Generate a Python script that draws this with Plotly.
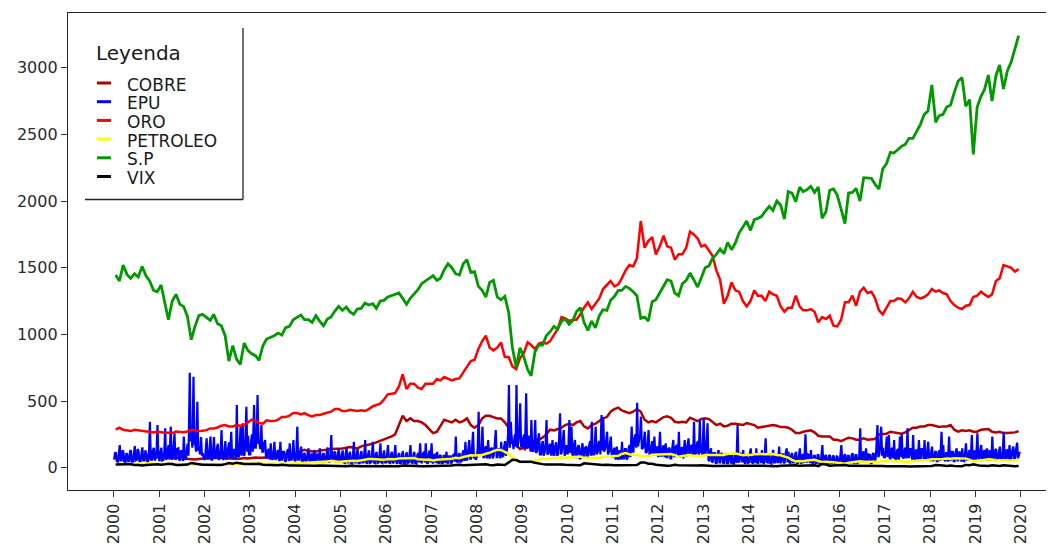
import pandas as pd
import plotly.graph_objects as go

# ---------------- DATA ----------------
fechas_mes = pd.date_range("2000-01-01", periods=240, freq="MS") + pd.Timedelta(days=14)
fechas_epu = [pd.Timestamp(a, m, d) for a in range(2000, 2020) for m in range(1, 13) for d in (3, 10, 17, 24)]

cobre = [
    85, 80, 80, 78, 82, 80, 85, 88, 90, 85, 82, 83,
    82, 80, 78, 75, 75, 72, 68, 65, 63, 62, 65, 68,
    70, 72, 75, 73, 73, 76, 70, 67, 67, 68, 72, 70,
    75, 77, 74, 73, 75, 76, 77, 80, 80, 86, 93, 100,
    110, 125, 135, 125, 125, 120, 130, 130, 135, 140, 140, 145,
    145, 150, 155, 150, 145, 160, 165, 170, 180, 190, 200, 215,
    225, 235, 250, 320, 390, 350, 370, 350, 350, 340, 320, 290,
    260, 270, 310, 360, 350, 340, 360, 340, 350, 370, 320, 300,
    320, 370, 390, 390, 380, 370, 370, 340, 300, 200, 170, 140,
    150, 150, 180, 210, 210, 225, 250, 285, 280, 290, 300, 320,
    330, 320, 340, 350, 310, 295, 320, 330, 350, 370, 380, 420,
    440, 450, 430, 420, 410, 420, 440, 420, 360, 340, 350, 340,
    360, 380, 385, 375, 345, 340, 345, 340, 375, 360, 350, 365,
    370, 365, 345, 320, 330, 310, 315, 330, 330, 325, 320, 335,
    330, 320, 300, 305, 310, 315, 320, 315, 305, 305, 300, 285,
    260, 260, 270, 275, 280, 265, 240, 235, 235, 235, 210, 210,
    200, 210, 225, 220, 210, 210, 220, 210, 215, 215, 250, 250,
    255, 270, 265, 255, 255, 265, 280, 300, 300, 310, 310, 320,
    320, 315, 305, 310, 310, 320, 285, 270, 280, 275, 280, 270,
    270, 285, 290, 290, 270, 265, 270, 260, 260, 260, 265, 275,
]

epu = [
    # 2000
    60, 115, 110, 50, 45, 120, 170, 55, 55, 130, 120, 45, 40, 110, 100, 50, 50, 125, 130, 45, 45, 105, 163, 55,
    60, 140, 125, 50, 50, 110, 153, 55, 55, 130, 110, 50, 45, 120, 345, 60, 60, 130, 150, 55, 70, 140, 320, 80,
    # 2001
    50, 120, 150, 55, 60, 130, 295, 60, 70, 140, 170, 60, 308, 70, 60, 130, 258, 60, 70, 140, 145, 55, 60, 130,
    120, 50, 233, 70, 60, 140, 180, 90, 713, 200, 250, 150, 683, 180, 180, 120, 495, 130, 150, 100, 230, 90, 110, 70,
    # 2002
    60, 140, 220, 70, 70, 150, 233, 60, 60, 130, 230, 70, 80, 150, 180, 60, 70, 140, 283, 70, 60, 130, 200, 60,
    80, 150, 190, 70, 270, 80, 70, 140, 120, 60, 470, 90, 80, 160, 308, 90, 333, 100, 90, 180, 458, 120, 240, 100,
    # 2003
    100, 200, 250, 120, 470, 150, 150, 250, 545, 180, 200, 140, 320, 120, 120, 180, 208, 80, 70, 130, 140, 60, 183, 70,
    60, 120, 195, 60, 70, 125, 130, 50, 195, 60, 60, 120, 120, 45, 50, 110, 140, 50, 183, 60, 60, 115, 208, 60,
    # 2004
    50, 110, 308, 60, 60, 120, 158, 50, 45, 105, 110, 45, 55, 115, 145, 50, 40, 100, 100, 45, 133, 50, 50, 105,
    90, 45, 145, 50, 45, 100, 110, 45, 50, 110, 153, 50, 40, 100, 246, 55, 60, 115, 120, 45, 45, 110, 145, 50,
    # 2005
    40, 100, 130, 40, 35, 105, 150, 40, 40, 100, 120, 35, 30, 100, 195, 40, 40, 105, 140, 35, 35, 100, 125, 40,
    40, 105, 208, 40, 30, 100, 130, 35, 40, 105, 195, 40, 35, 100, 120, 35, 40, 105, 183, 40, 35, 100, 130, 40,
    # 2006
    40, 100, 170, 40, 35, 100, 120, 35, 40, 105, 170, 40, 30, 95, 110, 35, 35, 100, 125, 35, 30, 95, 115, 35,
    40, 105, 170, 40, 35, 100, 120, 35, 30, 95, 110, 40, 183, 45, 35, 100, 120, 40, 183, 40, 30, 100, 130, 40,
    # 2007
    183, 40, 35, 95, 100, 35, 120, 40, 30, 90, 95, 35, 35, 90, 90, 35, 120, 40, 30, 85, 85, 35, 40, 95,
    100, 45, 233, 50, 40, 100, 110, 45, 50, 110, 130, 50, 195, 60, 60, 120, 208, 60, 70, 130, 270, 70, 100, 60,
    # 2008
    80, 150, 420, 90, 100, 160, 308, 80, 80, 150, 160, 70, 208, 80, 70, 140, 150, 70, 90, 150, 283, 80, 80, 140,
    140, 70, 195, 80, 90, 160, 200, 90, 150, 250, 620, 150, 345, 180, 200, 140, 250, 160, 620, 150, 200, 300, 483, 160,
    # 2009
    150, 220, 250, 130, 558, 160, 150, 240, 220, 120, 358, 130, 120, 200, 358, 110, 130, 210, 258, 100, 100, 180, 200, 90,
    120, 190, 358, 100, 110, 170, 180, 90, 208, 100, 90, 160, 190, 90, 100, 170, 408, 100, 120, 190, 283, 90, 110, 170,
    # 2010
    100, 180, 358, 110, 308, 100, 90, 170, 208, 80, 80, 150, 170, 70, 70, 140, 183, 80, 80, 150, 160, 70, 90, 160,
    200, 90, 345, 100, 100, 170, 308, 100, 120, 190, 200, 100, 395, 130, 370, 120, 150, 210, 270, 100, 120, 180, 233, 90,
    # 2011
    80, 140, 150, 60, 158, 70, 60, 130, 120, 60, 195, 70, 70, 140, 140, 60, 80, 150, 170, 80, 308, 120, 120, 220,
    250, 150, 488, 160, 200, 250, 383, 140, 150, 220, 270, 110, 120, 190, 283, 100, 100, 170, 200, 90, 233, 100, 100, 160,
    # 2012
    80, 150, 270, 90, 90, 160, 160, 80, 183, 80, 80, 140, 150, 70, 70, 140, 208, 80, 90, 160, 170, 80, 270, 90,
    80, 150, 150, 70, 208, 90, 90, 160, 220, 90, 100, 170, 160, 90, 345, 100, 110, 180, 200, 90, 358, 110, 150, 90,
    # 2013
    370, 100, 90, 160, 333, 60, 50, 120, 145, 45, 40, 110, 110, 35, 30, 100, 133, 40, 40, 110, 100, 35, 30, 95,
    108, 35, 35, 100, 95, 30, 108, 35, 30, 95, 90, 35, 320, 50, 40, 110, 100, 40, 133, 45, 30, 100, 95, 35,
    # 2014
    40, 110, 145, 40, 35, 100, 100, 35, 145, 40, 30, 95, 90, 35, 133, 40, 35, 100, 220, 45, 40, 105, 95, 35,
    30, 95, 133, 40, 40, 100, 90, 35, 158, 45, 35, 100, 100, 35, 40, 105, 145, 40, 120, 40, 35, 100, 110, 40,
    # 2015
    40, 100, 120, 35, 35, 100, 145, 40, 30, 95, 100, 35, 250, 50, 40, 100, 95, 35, 133, 40, 30, 90, 90, 35,
    35, 95, 95, 30, 30, 90, 170, 40, 40, 95, 90, 30, 30, 90, 95, 35, 35, 90, 85, 30, 30, 85, 83, 35,
    # 2016
    40, 100, 170, 40, 35, 95, 100, 35, 30, 90, 90, 35, 40, 100, 108, 35, 35, 95, 95, 35, 40, 110, 296, 50,
    50, 115, 120, 45, 145, 45, 40, 100, 95, 35, 35, 100, 110, 50, 50, 130, 320, 80, 100, 160, 308, 90, 150, 80,
    # 2017
    80, 150, 233, 80, 246, 70, 70, 140, 150, 70, 208, 70, 60, 130, 140, 60, 233, 80, 258, 80, 70, 140, 150, 70,
    296, 80, 80, 140, 140, 60, 245, 70, 60, 130, 130, 60, 208, 70, 70, 140, 140, 60, 208, 70, 60, 130, 195, 70,
    # 2018
    50, 120, 158, 50, 60, 120, 120, 50, 50, 115, 130, 50, 270, 70, 170, 60, 50, 110, 110, 45, 233, 60, 60, 120,
    120, 50, 50, 110, 145, 50, 60, 120, 110, 45, 145, 55, 50, 115, 183, 60, 60, 125, 130, 55, 246, 60, 70, 130,
    # 2019
    60, 130, 258, 70, 70, 135, 170, 60, 60, 125, 130, 55, 145, 60, 60, 125, 120, 55, 233, 70, 70, 135, 140, 60,
    60, 125, 158, 60, 60, 130, 270, 70, 70, 135, 130, 60, 170, 65, 60, 125, 158, 60, 70, 135, 188, 70, 110, 120,
]

oro = [
    285, 300, 285, 280, 275, 285, 280, 275, 273, 270, 265, 272,
    265, 262, 263, 260, 272, 270, 267, 272, 285, 280, 275, 277,
    282, 295, 295, 302, 315, 320, 310, 310, 320, 315, 320, 340,
    360, 350, 335, 330, 355, 350, 350, 360, 380, 380, 390, 410,
    410, 400, 410, 395, 385, 395, 395, 405, 410, 420, 440, 440,
    425, 425, 435, 430, 425, 430, 425, 440, 460, 470, 480, 510,
    550, 555, 560, 610, 700, 590, 630, 630, 600, 590, 630, 630,
    630, 665, 655, 680, 670, 655, 665, 670, 715, 760, 800, 810,
    890, 950, 990, 900, 880, 900, 940, 830, 830, 760, 740, 820,
    860, 940, 920, 890, 930, 940, 930, 950, 1000, 1040, 1130, 1120,
    1100, 1110, 1110, 1150, 1200, 1240, 1190, 1230, 1270, 1340, 1370, 1400,
    1360, 1375, 1420, 1480, 1520, 1510, 1570, 1850, 1650, 1700, 1730, 1600,
    1660, 1740, 1660, 1650, 1560, 1600, 1600, 1650, 1770, 1750, 1720, 1660,
    1670, 1630, 1590, 1480, 1410, 1230, 1290, 1390, 1330, 1320, 1250, 1210,
    1250, 1330, 1290, 1290, 1250, 1320, 1300, 1290, 1210, 1170, 1200, 1200,
    1290, 1210, 1180, 1180, 1190, 1170, 1090, 1130, 1115, 1140, 1065, 1060,
    1110, 1240, 1240, 1290, 1215, 1320, 1350, 1310, 1320, 1270, 1180, 1150,
    1200, 1250, 1250, 1270, 1265, 1240, 1270, 1320, 1280, 1270, 1280, 1300,
    1340, 1320, 1330, 1310, 1300, 1250, 1220, 1200, 1190, 1215, 1220, 1280,
    1290, 1320, 1300, 1280, 1300, 1400, 1420, 1520, 1510, 1500, 1470, 1490,
]

petroleo = [
    27, 29, 30, 25, 28, 32, 30, 31, 33, 33, 34, 28,
    29, 29, 27, 27, 28, 27, 26, 27, 26, 22, 19, 19,
    20, 21, 24, 26, 27, 26, 27, 28, 29, 28, 26, 29,
    32, 35, 33, 28, 28, 30, 30, 31, 28, 30, 31, 32,
    34, 35, 37, 37, 40, 38, 41, 45, 46, 53, 48, 43,
    47, 48, 54, 53, 50, 56, 59, 65, 65, 62, 58, 59,
    65, 62, 63, 70, 71, 70, 74, 73, 64, 59, 59, 62,
    54, 59, 60, 64, 63, 67, 74, 72, 80, 86, 94, 91,
    93, 95, 105, 112, 125, 134, 133, 116, 104, 77, 57, 41,
    42, 39, 48, 50, 59, 70, 64, 71, 69, 76, 78, 75,
    78, 76, 81, 84, 74, 75, 76, 77, 75, 82, 84, 89,
    89, 89, 103, 110, 101, 96, 97, 86, 86, 86, 97, 99,
    100, 102, 106, 103, 94, 82, 88, 94, 95, 89, 86, 88,
    95, 95, 93, 92, 95, 96, 105, 107, 106, 101, 94, 98,
    95, 101, 101, 102, 102, 106, 103, 96, 93, 84, 76, 59,
    47, 51, 48, 54, 59, 60, 51, 43, 45, 46, 42, 37,
    32, 30, 38, 41, 47, 49, 45, 45, 45, 50, 45, 52,
    52, 53, 49, 51, 49, 45, 47, 48, 50, 51, 57, 58,
    63, 63, 63, 66, 70, 67, 71, 68, 70, 70, 57, 49,
    51, 55, 58, 64, 61, 54, 57, 55, 57, 54, 57, 60,
]

sp = [
    1445, 1400, 1520, 1450, 1420, 1455, 1430, 1510, 1440, 1400, 1330, 1320,
    1370, 1240, 1110, 1250, 1300, 1225, 1210, 1135, 960, 1060, 1140, 1150,
    1130, 1105, 1150, 1080, 1065, 990, 800, 915, 815, 775, 935, 880,
    855, 840, 805, 915, 965, 975, 990, 1010, 995, 1050, 1060, 1110,
    1130, 1145, 1110, 1110, 1090, 1140, 1100, 1065, 1115, 1130, 1175, 1210,
    1180, 1205, 1170, 1150, 1190, 1195, 1235, 1220, 1230, 1195, 1250, 1255,
    1280, 1290, 1295, 1310, 1270, 1225, 1270, 1305, 1335, 1380, 1400, 1420,
    1440, 1405, 1420, 1485, 1530, 1500, 1455, 1445, 1530, 1560, 1465, 1470,
    1360, 1330, 1280, 1390, 1405, 1280, 1260, 1285, 1165, 900, 752, 900,
    830, 735, 690, 870, 920, 920, 990, 1020, 1060, 1040, 1100, 1115,
    1075, 1105, 1170, 1200, 1090, 1030, 1100, 1050, 1140, 1185, 1180, 1255,
    1285, 1330, 1330, 1360, 1345, 1320, 1290, 1120, 1130, 1100, 1245, 1260,
    1310, 1365, 1410, 1400, 1310, 1290, 1380, 1405, 1460, 1410, 1355, 1425,
    1500, 1515, 1570, 1600, 1640, 1605, 1690, 1635, 1685, 1760, 1805, 1850,
    1780, 1860, 1870, 1885, 1925, 1960, 1930, 2000, 1970, 1865, 2070, 2060,
    1995, 2105, 2070, 2085, 2110, 2065, 2105, 1870, 1920, 2080, 2090, 2045,
    1940, 1830, 2060, 2065, 2095, 2000, 2175, 2170, 2170, 2125, 2090, 2240,
    2280, 2365, 2360, 2385, 2410, 2425, 2470, 2470, 2520, 2575, 2650, 2675,
    2870, 2590, 2640, 2650, 2705, 2720, 2815, 2900, 2925, 2710, 2760, 2350,
    2705, 2785, 2835, 2945, 2750, 2940, 3020, 2840, 2975, 3040, 3140, 3240,
]

vix = [
    24, 23, 24, 26, 26, 20, 20, 17, 20, 24, 25, 26,
    23, 26, 30, 28, 21, 21, 23, 24, 36, 30, 24, 23,
    22, 22, 18, 20, 20, 27, 35, 30, 38, 34, 28, 28,
    30, 32, 29, 22, 20, 19, 20, 19, 22, 17, 17, 17,
    16, 15, 17, 16, 17, 15, 16, 15, 14, 15, 13, 13,
    13, 12, 14, 15, 13, 12, 11, 12, 12, 14, 12, 12,
    12, 12, 11, 11, 16, 14, 14, 12, 12, 11, 11, 11,
    11, 15, 14, 13, 13, 16, 20, 23, 18, 19, 23, 22,
    26, 26, 26, 21, 18, 24, 23, 21, 40, 60, 58, 45,
    45, 46, 45, 37, 30, 27, 25, 26, 25, 27, 24, 22,
    22, 20, 17, 18, 33, 30, 24, 25, 22, 20, 22, 18,
    18, 18, 18, 15, 16, 17, 20, 40, 40, 30, 30, 23,
    20, 19, 15, 17, 22, 18, 17, 16, 15, 17, 16, 18,
    14, 15, 13, 14, 14, 17, 13, 15, 15, 14, 13, 14,
    16, 15, 15, 14, 12, 11, 13, 12, 15, 16, 13, 18,
    19, 14, 15, 13, 14, 18, 12, 28, 24, 15, 16, 18,
    22, 20, 14, 14, 14, 16, 12, 13, 13, 17, 14, 13,
    11, 12, 12, 11, 10, 11, 10, 10, 10, 10, 11, 11,
    13, 20, 20, 16, 13, 16, 13, 13, 12, 21, 18, 25,
    17, 14, 14, 13, 18, 15, 13, 19, 16, 13, 12, 13,
]

series_nombres = ["COBRE", "EPU", "ORO", "PETROLEO", "S.P", "VIX"]
series_colores = ["#B20000", "#0000FF", "#FF0000", "#FFFF00", "#009A00", "#000000"]
anios = [str(a) for a in range(2000, 2021)]
y_ticks = [0, 500, 1000, 1500, 2000, 2500, 3000]

# ---------------- FIGURE ----------------
# The page body has an 8px margin, so figure pixel = page pixel - 8.
OFF = 8
W, H = 1054 - OFF, 544 - OFF
L, R, T, B = 68 - OFF, 1054 - OFF, 13 - OFF, 490 - OFF   # plot area (figure pixels)

series = [
    (fechas_mes, cobre), (fechas_epu, epu), (fechas_mes, oro),
    (fechas_mes, petroleo), (fechas_mes, sp), (fechas_mes, vix),
]
anchos = [2.5, 2.2, 2.5, 2.5, 2.8, 2.5]

fig = go.Figure()
for (xs, ys), nombre, color, w in zip(series, series_nombres, series_colores, anchos):
    fig.add_trace(go.Scatter(x=xs, y=ys, mode="lines", name=nombre,
                             line=dict(color=color, width=w), showlegend=False))

FONT = "DejaVu Sans"
TXT = "#2b2b2b"

fig.update_layout(
    width=W, height=H,
    margin=dict(l=L, r=W - R, t=T, b=H - B, autoexpand=False),
    paper_bgcolor="white", plot_bgcolor="white",
    font=dict(family=FONT, size=16, color=TXT),
    xaxis=dict(
        type="date",
        range=["1998-12-27", "2020-09-25"],
        tickvals=[f"{a}-01-01" for a in anios],
        ticktext=anios,
        tickangle=-90,
        ticks="outside", ticklen=6, tickwidth=1.2, tickcolor="#333333",
        showline=True, linecolor="#222222", linewidth=1.3, mirror=True,
        showgrid=False, zeroline=False, automargin=False,
        tickfont=dict(family=FONT, size=16, color=TXT),
    ),
    yaxis=dict(
        range=[-167, 3410],
        tickvals=y_ticks,
        ticks="outside", ticklen=6, tickwidth=1.2, tickcolor="#333333",
        showline=True, linecolor="#222222", linewidth=1.3, mirror=False,
        showgrid=False, zeroline=False, automargin=False,
        tickfont=dict(family=FONT, size=16, color=TXT),
    ),
)

def px(xp):
    """page pixel x -> paper fraction"""
    return (xp - OFF - L) / (R - L)

def py(yp):
    """page pixel y -> paper fraction"""
    return (B - (yp - OFF)) / (B - T)

# manual legend (ggplot-like key)
shapes = [
    dict(type="line", xref="paper", yref="paper", x0=px(243), x1=px(243), y0=py(28), y1=py(199.5),
         line=dict(color="#222222", width=1.3)),
    dict(type="line", xref="paper", yref="paper", x0=px(85), x1=px(243), y0=py(199.5), y1=py(199.5),
         line=dict(color="#222222", width=1.3)),
]
annotations = [
    dict(text="Leyenda", xref="paper", yref="paper", x=px(94), y=py(53), xanchor="left", yanchor="middle",
         showarrow=False, font=dict(family=FONT, size=20, color="#1a1a1a")),
]
fila_y0, paso = 83, 18.7
for i, (nombre, color) in enumerate(zip(series_nombres, series_colores)):
    yy = fila_y0 + i * paso
    shapes.append(dict(type="line", xref="paper", yref="paper", x0=px(97), x1=px(111), y0=py(yy), y1=py(yy),
                       line=dict(color=color, width=3)))
    annotations.append(dict(text=nombre, xref="paper", yref="paper", x=px(125), y=py(yy + 1.5),
                            xanchor="left", yanchor="middle", showarrow=False,
                            font=dict(family=FONT, size=17, color="#1a1a1a")))

fig.update_layout(shapes=shapes, annotations=annotations)

fig.write_html("out.html")
